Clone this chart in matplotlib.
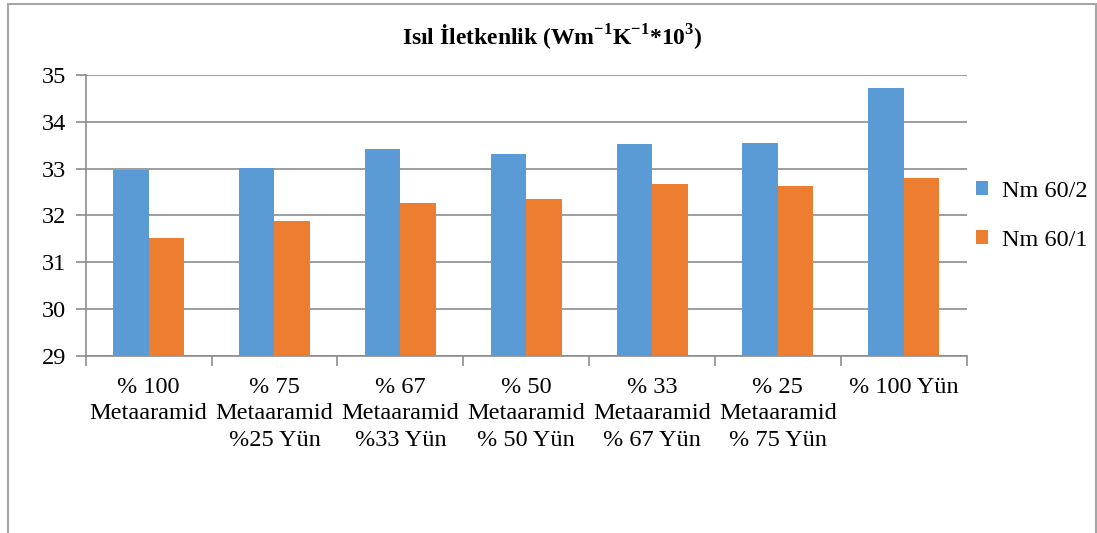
import matplotlib
matplotlib.use("Agg")
import matplotlib.pyplot as plt
import matplotlib.patches as patches
import numpy as np

categories = [
    "% 100\nMetaaramid",
    "% 75\nMetaaramid\n%25 Yün",
    "% 67\nMetaaramid\n%33 Yün",
    "% 50\nMetaaramid\n% 50 Yün",
    "% 33\nMetaaramid\n% 67 Yün",
    "% 25\nMetaaramid\n% 75 Yün",
    "% 100 Yün",
]
nm_60_2 = [32.96, 33.02, 33.42, 33.32, 33.53, 33.54, 34.73]
nm_60_1 = [31.51, 31.87, 32.26, 32.35, 32.67, 32.62, 32.80]
series_names = ["Nm 60/2", "Nm 60/1"]
y_ticks = [29, 30, 31, 32, 33, 34, 35]

plt.rcParams["font.family"] = ["Liberation Serif", "DejaVu Serif"]
plt.rcParams["mathtext.fontset"] = "custom"
plt.rcParams["mathtext.rm"] = "Liberation Serif"
plt.rcParams["mathtext.bf"] = "Liberation Serif:bold"

blue = "#5B9BD5"
orange = "#ED7D31"
grid_gray = "#8C8C8C"
fs = 17.5

fig = plt.figure(figsize=(10.97, 5.33), dpi=100)
ax = fig.add_axes([0.0781, 0.3327, 0.8031, 0.5266])

x = np.arange(len(categories))
w = 0.282
ax.bar(x - w / 2, nm_60_2, w, color=blue, label=series_names[0], zorder=3)
ax.bar(x + w / 2, nm_60_1, w, color=orange, label=series_names[1], zorder=3)

ax.set_xlim(-0.5, len(categories) - 0.5)
ax.set_ylim(29, 35)
ax.set_yticks(y_ticks)
ax.set_yticklabels([str(t) for t in y_ticks], fontsize=fs)
ax.yaxis.grid(True, color=grid_gray, linewidth=1.2, zorder=0)
ax.set_axisbelow(True)

# labels at category centres, tick marks on category boundaries
ax.set_xticks(x)
ax.set_xticklabels(categories, fontsize=fs, linespacing=1.37)
ax.set_xticks(np.arange(len(categories) + 1) - 0.5, minor=True)
ax.tick_params(axis="x", which="major", length=0, pad=15)
ax.tick_params(axis="x", which="minor", length=7, color=grid_gray, width=1.2)
ax.tick_params(axis="y", length=7, color=grid_gray, width=1.2, pad=7)

for side in ["top", "right"]:
    ax.spines[side].set_visible(False)
for side in ["left", "bottom"]:
    ax.spines[side].set_color(grid_gray)
    ax.spines[side].set_linewidth(1.2)

fig.text(0.5035, 0.929,
         r"Isıl İletkenlik (Wm$^{\mathbf{-1}}$K$^{\mathbf{-1}}$*10$^{\mathbf{3}}$)",
         ha="center", va="center", fontsize=17, fontweight="bold")

ax.legend(loc="center left", bbox_to_anchor=(0.8897, 0.5947),
          bbox_transform=fig.transFigure, frameon=False, fontsize=fs,
          handlelength=0.5, handleheight=0.5, handletextpad=0.55,
          labelspacing=1.15, borderpad=0, borderaxespad=0)

# outer chart border (open at the bottom edge of the image)
frame = patches.Rectangle((8 / 1097, -0.05), 1088 / 1097, 1.05 - 4 / 533,
                          transform=fig.transFigure, fill=False,
                          edgecolor="#A6A6A6", linewidth=1.5, clip_on=False)
fig.patches.append(frame)

fig.savefig("out.png", dpi=100)
